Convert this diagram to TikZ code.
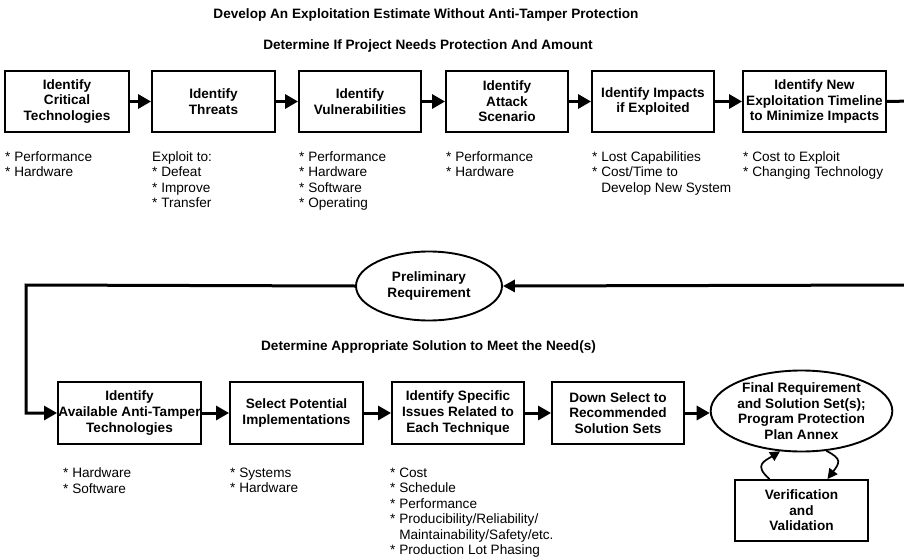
\documentclass[tikz,border=0pt]{standalone}
\usepackage{fontspec}
\setmainfont{Liberation Sans}
\usetikzlibrary{arrows.meta,shapes.geometric,calc}
\begin{document}
\begin{tikzpicture}[x=1pt,y=-1pt,
  txt/.style={font=\fontsize{13.6}{15.5}\selectfont},
  every node/.style={inner sep=0pt, txt},
  stage/.style={draw, line width=1.9pt, align=center, minimum height=61pt,
    font=\fontsize{13.6}{15.6}\selectfont\bfseries},
  oval/.style={draw, ellipse, line width=1.9pt, align=center,
    font=\fontsize{13.6}{15.6}\selectfont\bfseries},
  flow/.style={line width=3pt, -{Triangle[length=13pt,width=14pt]}},
  plain/.style={line width=3pt},
  cycle/.style={line width=1.7pt, -{Triangle[length=10pt,width=10pt]}},
  notes/.style={anchor=north west, align=left},
  heading/.style={anchor=base, font=\fontsize{13.6}{15.6}\selectfont\bfseries}
]
\useasboundingbox[fill=white] (0,0) rectangle (904,559);

% headings
\node[heading] (h1) at (426,18.3) {Develop An Exploitation Estimate Without Anti-Tamper Protection};
\node[heading] (h2) at (428,50) {Determine If Project Needs Protection And Amount};
\node[heading] (h3) at (428.5,350) {Determine Appropriate Solution to Meet the Need(s)};

% first stage: estimate
\node[stage, minimum width=124pt] (b1) at (67,101.5) {Identify\\Critical\\Technologies};
\node[stage, minimum width=123pt] (b2) at (213.5,101.5) {Identify\\Threats};
\node[stage, minimum width=122pt] (b3) at (360,101.5) {Identify\\Vulnerabilities};
\node[stage, minimum width=122pt] (b4) at (507,101.5) {Identify\\Attack\\Scenario};
\node[stage, minimum width=122pt] (b5) at (653,101.5) {Identify Impacts\\if Exploited};
\node[stage, minimum width=143pt] (b6) at (814.5,101.5) {Identify New\\Exploitation Timeline\\to Minimize Impacts};

\draw[flow] (b1) -- (b2);
\draw[flow] (b2) -- (b3);
\draw[flow] (b3) -- (b4);
\draw[flow] (b4) -- (b5);
\draw[flow] (b5) -- (b6);

\node[notes] (n1) at (5,151) {* Performance\\* Hardware};
\node[notes] (n2) at (152,151) {Exploit to:\\* Defeat\\* Improve\\* Transfer};
\node[notes] (n3) at (299,151) {* Performance\\* Hardware\\* Software\\* Operating};
\node[notes] (n4) at (446,151) {* Performance\\* Hardware};
\node[notes] (n5) at (592,151) {* Lost Capabilities\\* Cost/Time to\\\phantom{* }Develop New System};
\node[notes] (n6) at (743,151) {* Cost to Exploit\\* Changing Technology};

% return path into the preliminary requirement
\node[oval, minimum width=146pt, minimum height=69pt] (pre) at (429,286) {Preliminary\\Requirement};
\coordinate (outA) at (912,101);
\coordinate (outB) at (912,285);
\coordinate (lc) at (26,285);
\draw[plain] (b6.east) -- (outA);
\draw[flow, -{Triangle[length=12pt,width=12pt]}] (outB) -- (pre.east);

% second stage: solution
\node[stage, minimum width=143pt, minimum height=62pt] (b7) at (129.5,413) {Identify\\Available Anti-Tamper\\Technologies};
\node[stage, minimum width=133pt, minimum height=62pt] (b8) at (296.5,413) {Select Potential\\Implementations};
\node[stage, minimum width=132pt, minimum height=62pt] (b9) at (458,413) {Identify Specific\\Issues Related to\\Each Technique};
\node[stage, minimum width=132pt, minimum height=62pt] (b10) at (618,413) {Down Select to\\Recommended\\Solution Sets};
\node[oval, minimum width=173pt, minimum height=81pt] (fin) at (801.5,411) {Final Requirement\\and Solution Set(s);\\Program Protection\\Plan Annex};
\node[stage, minimum width=133pt] (ver) at (801.5,510.5) {Verification\\and\\Validation};

\draw[flow] (pre.west) -- (lc) |- (b7.west);
\draw[flow] (b7) -- (b8);
\draw[flow] (b8) -- (b9);
\draw[flow] (b9) -- (b10);
\draw[flow] (b10.east) -- (b10.east -| fin.west);

% verification loop
\draw[cycle] ($(ver.north)+(-32,0)$) .. controls +(-16,-14) and +(-16,10) .. (fin.242);
\draw[cycle] (fin.302) .. controls +(16,8) and +(12,-16) .. ($(ver.north)+(26,0)$);

\node[notes] (n7) at (63,467.5) {* Hardware\\* Software};
\node[notes] (n8) at (230,467.5) {* Systems\\* Hardware};
\node[notes] (n9) at (390,467.5) {* Cost\\* Schedule\\* Performance\\* Producibility/Reliability/\\\phantom{* }Maintainability/Safety/etc.\\* Production Lot Phasing};
\end{tikzpicture}
\end{document}
